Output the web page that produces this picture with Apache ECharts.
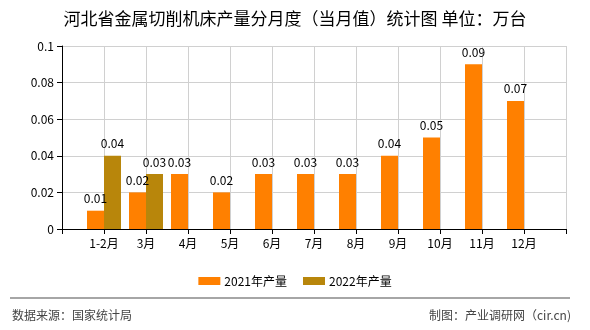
<!DOCTYPE html>
<html>
<head>
<meta charset="utf-8">
<script src="https://cdn.jsdelivr.net/npm/echarts@6/dist/echarts.min.js"></script>
<style>html,body{margin:0;padding:0;background:#fff;}#c{width:590px;height:330px;}</style>
</head>
<body>
<div id="c"></div>
<script>
var categories = ['', '1-2月', '3月', '4月', '5月', '6月', '7月', '8月', '9月', '10月', '11月', '12月', ''];
var values2021 = [null, 0.01, 0.02, 0.03, 0.02, 0.03, 0.03, 0.03, 0.04, 0.05, 0.09, 0.07, null];
var values2022 = [null, 0.04, 0.03, null, null, null, null, null, null, null, null, null, null];
var seriesNames = ['2021年产量', '2022年产量'];
var titleText = '河北省金属切削机床产量分月度（当月值）统计图 单位：万台';
var sourceText = '数据来源：国家统计局';
var makerText = '制图：产业调研网（cir.cn)';

var font = '"Noto Sans CJK SC", "Noto Sans", sans-serif';
var chart = echarts.init(document.getElementById('c'), null, {renderer: 'canvas'});
var labelCfg = {show: true, position: 'top', color: '#000', fontSize: 12, fontFamily: font, distance: 6};
chart.setOption({
  animation: false,
  backgroundColor: '#fff',
  title: {
    text: titleText, left: 'center', top: 5,
    textStyle: {fontSize: 17, fontWeight: 'normal', color: '#000', fontFamily: font}
  },
  legend: {
    top: 270, left: 'center', itemWidth: 22, itemHeight: 8, itemGap: 16,
    icon: 'rect',
    textStyle: {fontSize: 12, color: '#000', fontFamily: font, padding: [0, 0, 0, -1]},
    data: seriesNames
  },
  grid: {left: 62, right: 24, top: 46, bottom: 101, containLabel: false},
  xAxis: {
    type: 'category', data: categories, boundaryGap: false,
    axisLine: {lineStyle: {color: '#000'}},
    axisTick: {show: true, length: 5, interval: 0, lineStyle: {color: '#000'}},
    axisLabel: {interval: 0, color: '#000', fontSize: 12, fontFamily: font, margin: 8},
    splitLine: {show: true, interval: 0, lineStyle: {color: '#d0d0d0'}}
  },
  yAxis: {
    type: 'value', min: 0, max: 0.1, interval: 0.02,
    axisLine: {show: true, lineStyle: {color: '#000'}},
    axisTick: {show: true, length: 5, lineStyle: {color: '#000'}},
    axisLabel: {color: '#000', fontSize: 12, fontFamily: font, margin: 8},
    splitLine: {show: true, lineStyle: {color: '#d0d0d0'}}
  },
  series: [
    {name: seriesNames[0], type: 'bar', data: values2021, barWidth: 17, barGap: '0%',
     itemStyle: {color: '#FF8000'}, label: labelCfg},
    {name: seriesNames[1], type: 'bar', data: values2022, barWidth: 17,
     itemStyle: {color: '#B8860B'}, label: labelCfg}
  ],
  graphic: [
    {type: 'line', shape: {x1: 10, y1: 298, x2: 570, y2: 298}, style: {stroke: '#888', lineWidth: 1.5}},
    {type: 'text', left: 12, top: 309, style: {text: sourceText, fill: '#444', fontSize: 12, fontFamily: font}},
    {type: 'text', right: 19, top: 309, style: {text: makerText, fill: '#444', fontSize: 12, fontFamily: font}}
  ]
});
</script>
</body>
</html>
